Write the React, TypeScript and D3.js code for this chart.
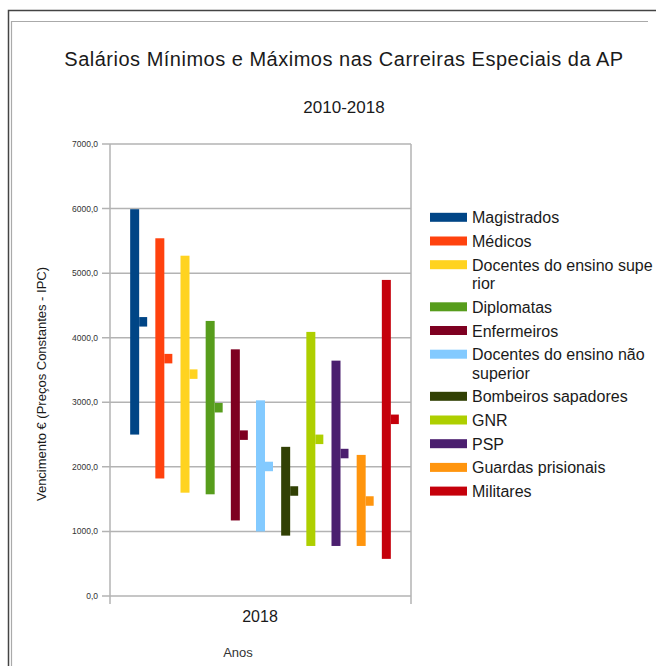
import React from 'react';
import * as d3 from 'd3';

const series = [
  'Magistrados',
  'Médicos',
  'Docentes do ensino superior',
  'Diplomatas',
  'Enfermeiros',
  'Docentes do ensino não superior',
  'Bombeiros sapadores',
  'GNR',
  'PSP',
  'Guardas prisionais',
  'Militares',
];
// legend lines as wrapped in the original
const legendLines = [
  ['Magistrados'],
  ['Médicos'],
  ['Docentes do ensino supe', 'rior'],
  ['Diplomatas'],
  ['Enfermeiros'],
  ['Docentes do ensino não', 'superior'],
  ['Bombeiros sapadores'],
  ['GNR'],
  ['PSP'],
  ['Guardas prisionais'],
  ['Militares'],
];
const minValues = [2500, 1820, 1600, 1575, 1170, 1000, 935, 775, 775, 775, 575];
const maxValues = [5990, 5540, 5270, 4260, 3820, 3030, 2310, 4090, 3645, 2185, 4895];
const midValues = [4250, 3680, 3440, 2920, 2495, 2010, 1630, 2430, 2210, 1475, 2740];
const colors = [
  '#004586', '#ff420e', '#ffd320', '#579d1c', '#7e0021', '#83caff',
  '#314004', '#aecf00', '#4b1f6f', '#ff950e', '#c5000b',
];
const yTicks = [0, 1000, 2000, 3000, 4000, 5000, 6000, 7000];

const App = () => {
  const Width = 656;
  const Height = 666;
  const plot = { left: 110, right: 411, top: 144, bottom: 596 };

  const xScale = d3.scalePoint().domain(series).range([plot.left, plot.right]).padding(0.98);
  const yScale = d3.scaleLinear().domain([0, 7000]).range([plot.bottom, plot.top]);
  const fmt = (v: number) => d3.format('.1f')(v).replace('.', ',');
  const barW = 9;
  const font = '"Liberation Sans", Arial, sans-serif';

  const grid = yTicks.map((t) => (
    <g key={t}>
      <line x1={plot.left - 8} x2={plot.right} y1={yScale(t)} y2={yScale(t)} stroke="#b3b3b3" strokeWidth={1.5} />
      <text x={98} y={yScale(t) + 3} textAnchor="end" style={{ fontSize: '8.5px', fill: '#333' }}>{fmt(t)}</text>
    </g>
  ));

  const bars = series.map((s, i) => {
    const cx = xScale(s) as number;
    return (
      <g key={s}>
        <rect x={cx - barW / 2} y={yScale(maxValues[i])} width={barW} height={yScale(minValues[i]) - yScale(maxValues[i])} fill={colors[i]} />
        <rect x={cx + barW / 2} y={yScale(midValues[i]) - 4.5} width={8} height={9.5} fill={colors[i]} />
      </g>
    );
  });

  let ly = 217.3;
  const legend = legendLines.map((lines, i) => {
    const y0 = ly;
    ly += 23.7 + (lines.length - 1) * 18.4;
    return (
      <g key={i}>
        <rect x={430} y={y0 - 4.5} width={37} height={9} fill={colors[i]} />
        {lines.map((l, j) => (
          <text key={j} x={472} y={y0 + 6 + j * 18.4} style={{ fontSize: '16px', fill: '#1a1a1a' }}>{l}</text>
        ))}
      </g>
    );
  });

  return (
    <svg width={Width} height={Height} style={{ position: 'absolute', left: 0, top: 0, fontFamily: font }}>
      <rect width={Width} height={Height} fill="#fff" />
      <path d={`M8.5,${Height} V10.5 H${Width}`} fill="none" stroke="#444" strokeWidth={1.5} />
      <path d={`M11.5,${Height} V21.5 H648`} fill="none" stroke="#aaa" strokeWidth={1.2} />

      <text x={344} y={66} textAnchor="middle" style={{ fontSize: '20px', fill: '#1a1a1a', letterSpacing: '0.5px' }}>
        Salários Mínimos e Máximos nas Carreiras Especiais da AP
      </text>
      <text x={344} y={113} textAnchor="middle" style={{ fontSize: '17px', fill: '#1a1a1a' }}>2010-2018</text>

      {grid}
      <line x1={plot.left} x2={plot.left} y1={plot.top} y2={plot.bottom + 8} stroke="#b3b3b3" strokeWidth={1.5} />
      <line x1={plot.right} x2={plot.right} y1={plot.top} y2={plot.bottom + 8} stroke="#b3b3b3" strokeWidth={1.5} />
      {bars}

      <text x={260} y={622} textAnchor="middle" style={{ fontSize: '16px', fill: '#1a1a1a' }}>2018</text>
      <text x={238} y={657} textAnchor="middle" style={{ fontSize: '13px', fill: '#333' }}>Anos</text>
      <text transform={`translate(46, 384) rotate(-90)`} textAnchor="middle" style={{ fontSize: '13px', fill: '#1a1a1a' }}>
        Vencimento € (Preços Constantes - IPC)
      </text>

      <g>{legend}</g>
    </svg>
  );
};

export default App;
